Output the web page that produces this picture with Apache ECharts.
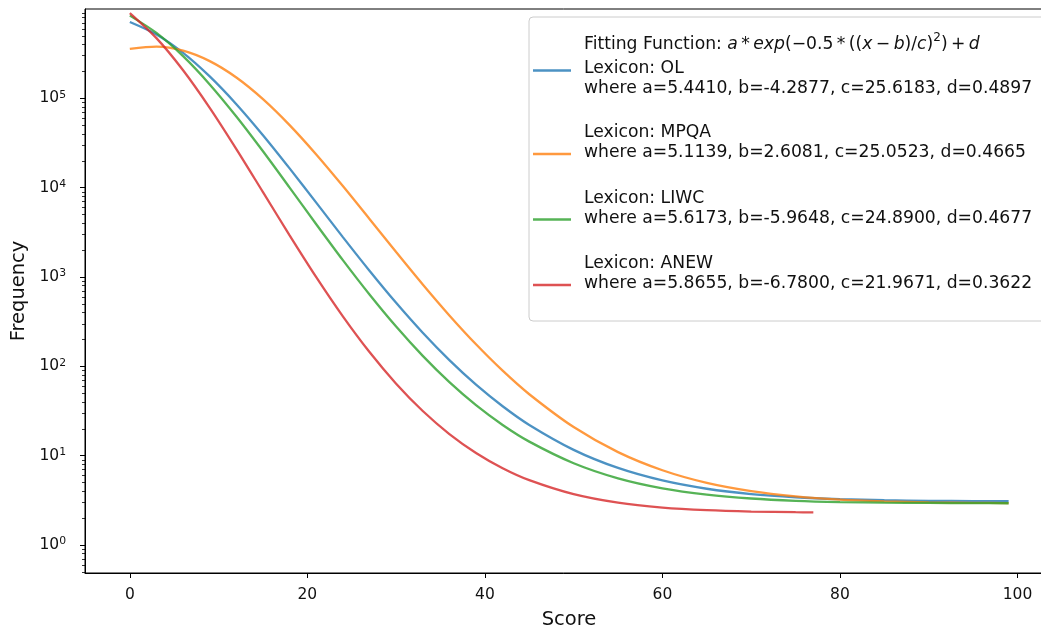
<!DOCTYPE html>
<html><head><meta charset="utf-8">
<script src="https://cdn.jsdelivr.net/npm/echarts@6/dist/echarts.min.js"></script>
<style>html,body{margin:0;padding:0;background:#fff}#c{width:1041px;height:630px}</style>
</head><body><div id="c"></div>
<script>
// Scores (x) and fitted frequencies (y)
const scores = [0,3,6,9,12,15,18,21,24,27,30,33,36,39,42,45,50,55,60,65,70,75,80,85,90,95,99];
const freqOL = [716000,519000,323000,176000,86100,38700,16450,6800,2800,1177,514.6,237.8,117.4,62.4,35.8,22.1,11.64,7.30,5.29,4.27,3.72,3.43,3.27,3.18,3.13,3.11,3.10];
const freqMPQA = [357100,379900,341800,261000,171200,98060,50210,23570,10430,4466,1902,825.1,371.7,176.6,89.5,48.8,20.94,10.98,6.88,4.97,4.02,3.51,3.23,3.09,3.01,2.97,2.95];
const freqLIWC = [843300,539800,296500,143300,62650,25560,10030,3903,1546,637.7,278.9,131.0,66.6,36.8,22.1,14.39,8.25,5.59,4.32,3.67,3.32,3.13,3.03,2.98,2.96,2.95,2.94];
const scoresANEW = [0,3,6,9,12,15,18,21,24,27,30,33,36,39,42,45,50,55,60,65,70,75,77];
const freqANEW = [901400,472300,206300,78310,27050,8915,2929,997.0,363.0,144.6,64.0,31.65,17.49,10.74,7.25,5.33,3.715,2.982,2.630,2.457,2.373,2.333,2.324];

const xTicks = [0,20,40,60,80,100];
const yTicks = [1,10,100,1000,10000,100000];
const yMinorTicks = [0.5,0.6,0.7,0.8,0.9,2,3,4,5,6,7,8,9,20,30,40,50,60,70,80,90,
  200,300,400,500,600,700,800,900,2000,3000,4000,5000,6000,7000,8000,9000,
  20000,30000,40000,50000,60000,70000,80000,90000,200000,300000,400000,500000,600000,700000,800000,900000];

const seriesNames = ['OL','MPQA','LIWC','ANEW'];
const TS = '\u2009';
const legendText = {
  OL: '{p9| }\n{h|Fitting Function: }{i|a}{h|' + TS + '*' + TS + '}{i|exp}{h|(−0.5' + TS + '*' + TS + '((}{i|x}{h|' + TS + '−' + TS + '}{i|b}{h|)/}{i|c}{h|)}{s|2}{h|)' + TS + '+' + TS + '}{i|d}\n{t|Lexicon: OL}\n{t|where a=5.4410, b=-4.2877, c=25.6183, d=0.4897}\n{p20| }',
  MPQA: '{t|Lexicon: MPQA}\n{t|where a=5.1139, b=2.6081, c=25.0523, d=0.4665}\n{p22| }',
  LIWC: '{t|Lexicon: LIWC}\n{t|where a=5.6173, b=-5.9648, c=24.8900, d=0.4677}\n{p22| }',
  ANEW: '{t|Lexicon: ANEW}\n{t|where a=5.8655, b=-6.7800, c=21.9671, d=0.3622}\n{p22| }'
};
const colors = ['rgba(31,119,180,0.8)','rgba(255,127,14,0.8)','rgba(44,160,44,0.8)','rgba(214,39,40,0.8)'];

const FONT = 'DejaVu Sans';
const LF = 17.2;
function pairs(xs, ys){ return xs.map((x,i)=>[x, ys[i]]); }
const seriesData = [pairs(scores,freqOL), pairs(scores,freqMPQA), pairs(scores,freqLIWC), pairs(scoresANEW,freqANEW)];

const series = seriesNames.map((n, k) => ({
  name: n, type: 'line', data: seriesData[k], xAxisIndex: 0, yAxisIndex: 0,
  symbol: 'none', showSymbol: false, smooth: 0.3, silent: true,
  color: colors[k],
  itemStyle: {color: colors[k]},
  lineStyle: {color: colors[k], width: 2.3}
}));
// empty helper series so the minor-tick axis is bound to the grid
series.push({name: '_minor', type: 'line', data: [], xAxisIndex: 0, yAxisIndex: 1, symbol: 'none', silent: true});

const chart = echarts.init(document.getElementById('c'), null, {renderer:'canvas'});
chart.setOption({
  animation: false,
  backgroundColor: '#fff',
  grid: {left: 85, top: 9, right: -12, bottom: 57, show: true, borderColor: '#000', borderWidth: 1, outerBoundsMode: 'none', containLabel: false},
  xAxis: {
    type: 'value', min: -5.05, max: 104,
    name: 'Score', nameLocation: 'middle', nameGap: 37,
    nameTextStyle: {fontFamily: FONT, fontSize: 19.5, color: '#111'},
    axisLine: {show: true, onZero: false, lineStyle: {color: '#000', width: 1}},
    axisTick: {show: true, customValues: xTicks, length: 5, lineStyle: {color: '#000', width: 1}},
    axisLabel: {customValues: xTicks, margin: 14, fontFamily: FONT, fontSize: 15.5, color: '#111'},
    splitLine: {show: false}
  },
  yAxis: [{
    type: 'log', logBase: 10, min: 0.487, max: 1000000, position: 'left',
    name: 'Frequency', nameLocation: 'middle', nameGap: 55, nameRotate: 90,
    nameTextStyle: {fontFamily: FONT, fontSize: 19.5, color: '#111'},
    axisLine: {show: true, onZero: false, lineStyle: {color: '#000', width: 1}},
    axisTick: {show: true, customValues: yTicks, length: 5, lineStyle: {color: '#000', width: 1}},
    axisLabel: {
      customValues: yTicks, margin: 19,
      formatter: v => '{b|10}{s|' + Math.round(Math.log10(v)) + '}',
      rich: {
        b: {fontFamily: FONT, fontSize: 15.5, lineHeight: 18, color: '#111'},
        s: {fontFamily: FONT, fontSize: 10.8, lineHeight: 8, verticalAlign: 'top', color: '#111'}
      }
    },
    splitLine: {show: false}
  }, {
    type: 'log', logBase: 10, min: 0.487, max: 1000000, position: 'left', offset: 0, show: true,
    axisLine: {show: true, onZero: false, lineStyle: {color: 'rgba(0,0,0,0)', width: 1}},
    axisTick: {show: true, customValues: yMinorTicks, length: 3, lineStyle: {color: '#000', width: 0.8}},
    axisLabel: {show: false},
    splitLine: {show: false}
  }],
  legend: {
    orient: 'vertical', left: 529, top: 17, padding: [6, 18, 12, 4],
    itemWidth: 38, itemHeight: 2.3, itemGap: 12, align: 'left', icon: 'rect',
    backgroundColor: 'rgba(255,255,255,0.8)', borderColor: '#cccccc', borderWidth: 1, borderRadius: 4,
    selectedMode: false,
    textStyle: {
      fontFamily: FONT, fontSize: LF, color: '#111', padding: [0, 0, 0, 8],
      rich: {
        t: {fontFamily: FONT, fontSize: LF, lineHeight: 20, color: '#111'},
        h: {fontFamily: FONT, fontSize: LF, lineHeight: 27, color: '#111'},
        i: {fontFamily: FONT, fontSize: LF, lineHeight: 27, fontStyle: 'italic', color: '#111'},
        s: {fontFamily: FONT, fontSize: 12, lineHeight: 16, verticalAlign: 'top', color: '#111'},
        p9: {fontSize: 8, lineHeight: 9},
        p20: {fontSize: 8, lineHeight: 20},
        p22: {fontSize: 8, lineHeight: 22}
      }
    },
    data: seriesNames,
    formatter: n => legendText[n]
  },
  series: series
});
</script></body></html>
